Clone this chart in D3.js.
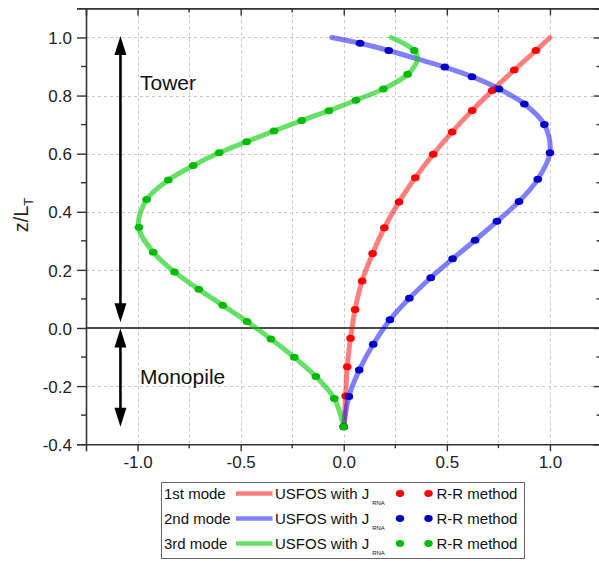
<!DOCTYPE html>
<html>
<head>
<meta charset="utf-8">
<script src="https://cdn.jsdelivr.net/npm/d3@7"></script>
<style>
  body { margin: 0; background: #fff; }
  svg { display: block; font-family: "Liberation Sans", Arial, sans-serif; }
</style>
</head>
<body>
<svg id="chart" width="599" height="561"></svg>
<script>
// axis ticks
var xTicks = [-1.0, -0.5, 0.0, 0.5, 1.0]
var xMinor = [-0.75, -0.25, 0.25, 0.75]
var xGrid = [-1.0, -0.75, -0.5, -0.25, 0.0, 0.25, 0.5, 0.75, 1.0]
var yTicks = [-0.4, -0.2, 0.0, 0.2, 0.4, 0.6, 0.8, 1.0]
var yMinor = [-0.3, -0.1, 0.1, 0.3, 0.5, 0.7, 0.9]

// 1st mode (red)  [displacement, z/L_T]
var mode1Line = [[0, -0.34], [0.009, -0.234], [0.017, -0.133], [0.033, -0.035], [0.055, 0.064],
  [0.089, 0.162], [0.14, 0.256], [0.197, 0.345], [0.268, 0.434], [0.347, 0.517], [0.434, 0.598],
  [0.526, 0.675], [0.623, 0.749], [0.72, 0.817], [0.827, 0.888], [0.932, 0.955], [1.0, 1.0]]
var mode1RR = [[0, -0.34], [0.009, -0.234], [0.017, -0.133], [0.033, -0.035], [0.055, 0.064],
  [0.089, 0.162], [0.14, 0.256], [0.197, 0.345], [0.268, 0.434], [0.347, 0.517], [0.434, 0.598],
  [0.526, 0.675], [0.623, 0.749], [0.72, 0.817], [0.827, 0.888], [0.932, 0.955]]

// 2nd mode (blue)
var mode2Line = [[0, -0.34], [0.025, -0.236], [0.075, -0.145], [0.143, -0.056], [0.224, 0.028],
  [0.318, 0.102], [0.422, 0.173], [0.528, 0.238], [0.637, 0.302], [0.743, 0.367], [0.85, 0.435],
  [0.941, 0.512], [1.0, 0.603], [0.973, 0.7], [0.876, 0.771], [0.753, 0.823], [0.622, 0.865],
  [0.49, 0.898], [0.352, 0.927], [0.218, 0.955], [0.079, 0.98], [-0.058, 1.0]]
var mode2RR = [[0, -0.34], [0.025, -0.236], [0.075, -0.145], [0.143, -0.056], [0.224, 0.028],
  [0.318, 0.102], [0.422, 0.173], [0.528, 0.238], [0.637, 0.302], [0.743, 0.367], [0.85, 0.435],
  [0.941, 0.512], [1.0, 0.603], [0.973, 0.7], [0.876, 0.771], [0.753, 0.823], [0.622, 0.865],
  [0.49, 0.898], [0.218, 0.955], [0.079, 0.98]]

// 3rd mode (green)
var mode3Line = [[0, -0.34], [-0.046, -0.243], [-0.135, -0.167], [-0.24, -0.101], [-0.353, -0.038],
  [-0.469, 0.022], [-0.587, 0.078], [-0.703, 0.133], [-0.821, 0.193], [-0.924, 0.261], [-0.995, 0.347],
  [-0.956, 0.442], [-0.851, 0.509], [-0.73, 0.559], [-0.604, 0.603], [-0.471, 0.641], [-0.338, 0.678],
  [-0.204, 0.714], [-0.072, 0.748], [0.059, 0.784], [0.192, 0.823], [0.31, 0.873], [0.357, 0.925],
  [0.342, 0.955], [0.23, 1.0]]
var mode3RR = [[0, -0.34], [-0.046, -0.243], [-0.135, -0.167], [-0.24, -0.101], [-0.353, -0.038],
  [-0.469, 0.022], [-0.587, 0.078], [-0.703, 0.133], [-0.821, 0.193], [-0.924, 0.261], [-0.993, 0.347],
  [-0.956, 0.442], [-0.851, 0.509], [-0.73, 0.559], [-0.604, 0.603], [-0.471, 0.641], [-0.338, 0.678],
  [-0.204, 0.714], [-0.072, 0.748], [0.059, 0.784], [0.192, 0.823], [0.31, 0.873], [0.342, 0.955]]

var modeNames = ["1st mode", "2nd mode", "3rd mode"]
var lineColours = ["rgba(255,0,0,0.5)", "rgba(0,0,255,0.5)", "rgba(0,204,0,0.6)"]
var dotColours = ["#ff0000", "#0000c8", "#00bb00"]

// region arrows: [x, z from, z to]
var towerArrow = [-1.083, 1.005, 0.02]
var pileArrow = [-1.083, -0.002, -0.34]

var svg = d3.select("#chart")

var x = d3.scaleLinear().domain([-1.25, 1.25]).range([86, 601.5])
var y = d3.scaleLinear().domain([-0.4, 1.1]).range([444.2, 8.4])

var x0 = x.range()[0], x1 = x.range()[1], y0 = y.range()[0], y1 = y.range()[1]
var fmt = function(d) { return d3.format(".1f")(d).replace("\u2212", "-") }

// grid
var grid = svg.append("g").attr("stroke", "#c8c8c8").attr("stroke-dasharray", "3,3").attr("stroke-width", 1)
grid.selectAll(".vg").data(xGrid).enter().append("line")
  .attr("x1", function(d) { return Math.round(x(d)) + 0.5 }).attr("x2", function(d) { return Math.round(x(d)) + 0.5 })
  .attr("y1", y1).attr("y2", y0)
grid.selectAll(".hg").data(yTicks.filter(function(d) { return d > -0.4 && d != 0 })).enter().append("line")
  .attr("y1", function(d) { return Math.round(y(d)) + 0.5 }).attr("y2", function(d) { return Math.round(y(d)) + 0.5 })
  .attr("x1", x0).attr("x2", x1)

// zero line
svg.append("line").attr("x1", x0).attr("x2", x1).attr("y1", y(0)).attr("y2", y(0))
  .attr("stroke", "#111").attr("stroke-width", 1.6)

// axes
var axisCol = "#333"
var axBottom = svg.append("g").attr("transform", "translate(0," + y0 + ")")
  .call(d3.axisBottom(x).tickValues(xTicks).tickFormat(fmt).tickSize(7).tickPadding(5))
axBottom.append("g").attr("class", "minor").selectAll("line").data(xMinor).enter().append("line")
  .attr("x1", x).attr("x2", x).attr("y1", 0).attr("y2", 4)

var axLeft = svg.append("g").attr("transform", "translate(" + x0 + ",0)")
  .call(d3.axisLeft(y).tickValues(yTicks).tickFormat(fmt).tickSize(9).tickPadding(5))
axLeft.append("g").attr("class", "minor").selectAll("line").data(yMinor).enter().append("line")
  .attr("y1", y).attr("y2", y).attr("x1", 0).attr("x2", -5)

var axTop = svg.append("g").attr("transform", "translate(0," + y1 + ")")
  .call(d3.axisBottom(x).tickValues(xTicks).tickFormat("").tickSize(7))
axTop.append("g").attr("class", "minor").selectAll("line").data(xMinor).enter().append("line")
  .attr("x1", x).attr("x2", x).attr("y1", 0).attr("y2", 4)

var axRight = svg.append("g").attr("transform", "translate(" + x1 + ",0)")
  .call(d3.axisRight(y).tickValues(yTicks).tickFormat("").tickSize(-8))
axRight.append("g").attr("class", "minor").selectAll("line").data(yMinor).enter().append("line")
  .attr("y1", y).attr("y2", y).attr("x1", 0).attr("x2", -5)

svg.selectAll(".domain").attr("stroke", axisCol).attr("stroke-width", 1.6)
svg.selectAll(".tick line, .minor line").attr("stroke", axisCol).attr("stroke-width", 1.4)
svg.selectAll(".tick text").attr("font-size", 17).attr("fill", "#222")
  .attr("font-family", "'Liberation Sans', Arial, sans-serif")
axLeft.selectAll(".tick text").attr("dy", "0.36em")

// y label
var ylab = svg.append("text").attr("transform", "translate(28,215) rotate(-90)")
  .attr("text-anchor", "middle").attr("font-size", 20).attr("fill", "#222")
ylab.append("tspan").text("z/L")
ylab.append("tspan").attr("font-size", 13).attr("dy", 5).text("T")

// arrows
function drawArrow(a) {
  var ax = x(a[0]), ya = y(a[1]), yb = y(a[2])
  var head = 19, hw = 6
  var g = svg.append("g")
  g.append("line").attr("x1", ax).attr("x2", ax).attr("y1", ya + head - 2).attr("y2", yb - head + 2)
    .attr("stroke", "#000").attr("stroke-width", 2.6)
  g.append("path").attr("d", "M" + ax + "," + ya + "L" + (ax - hw) + "," + (ya + head) + "L" + (ax + hw) + "," + (ya + head) + "Z")
    .attr("fill", "#000")
  g.append("path").attr("d", "M" + ax + "," + yb + "L" + (ax - hw) + "," + (yb - head) + "L" + (ax + hw) + "," + (yb - head) + "Z")
    .attr("fill", "#000")
}
drawArrow(towerArrow)
drawArrow(pileArrow)

svg.append("text").attr("x", 140).attr("y", 90).attr("font-size", 21).attr("fill", "#111").text("Tower")
svg.append("text").attr("x", 140).attr("y", 384).attr("font-size", 21).attr("fill", "#111").text("Monopile")

// curves
var line = d3.line().x(function(d) { return x(d[0]) }).y(function(d) { return y(d[1]) })
  .curve(d3.curveCatmullRom.alpha(0.5))

var lines = [mode1Line, mode2Line, mode3Line]
var dots = [mode1RR, mode2RR, mode3RR]

lines.forEach(function(l, i) {
  svg.append("path").datum(l).attr("d", line).attr("fill", "none")
    .attr("stroke", lineColours[i]).attr("stroke-width", 5).attr("stroke-linecap", "round")
})
dots.forEach(function(p, i) {
  svg.append("g").selectAll("ellipse").data(p).enter().append("ellipse")
    .attr("cx", function(d) { return x(d[0]) }).attr("cy", function(d) { return y(d[1]) })
    .attr("rx", 4.3).attr("ry", 3.5).attr("fill", dotColours[i])
})

// legend
var lg = svg.append("g")
lg.append("rect").attr("x", 161.5).attr("y", 482.5).attr("width", 363).attr("height", 76)
  .attr("fill", "#fff").attr("stroke", "#666").attr("stroke-width", 1)
modeNames.forEach(function(name, i) {
  var cy = 493.5 + i * 25
  var g = lg.append("g").attr("font-size", 15).attr("fill", "#111")
  g.append("text").attr("x", 164).attr("y", cy + 5.5).text(name)
  g.append("line").attr("x1", 236).attr("x2", 272.5).attr("y1", cy).attr("y2", cy)
    .attr("stroke", lineColours[i]).attr("stroke-width", 4.5)
  var t = g.append("text").attr("x", 275).attr("y", cy + 5.5)
  t.append("tspan").text("USFOS with J")
  t.append("tspan").attr("font-size", 6).attr("dx", 3).attr("dy", 6).text("RNA")
  g.append("ellipse").attr("cx", 400).attr("cy", cy).attr("rx", 4.2).attr("ry", 3.4).attr("fill", dotColours[i])
  g.append("ellipse").attr("cx", 428.5).attr("cy", cy).attr("rx", 4.2).attr("ry", 3.4).attr("fill", dotColours[i])
  g.append("text").attr("x", 436.5).attr("y", cy + 5.5).text("R-R method")
})
</script>
</body>
</html>
